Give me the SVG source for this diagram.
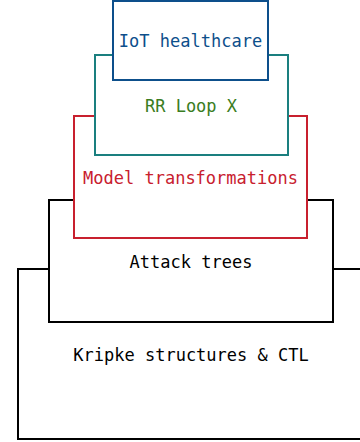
<svg xmlns="http://www.w3.org/2000/svg" width="360" height="442" viewBox="0 0 360 442">
<style>
rect{fill:#fff;stroke-width:2}
text{font-family:"DejaVu Sans Mono",monospace;font-size:17px;text-anchor:middle}
</style>
<rect width="360" height="442" fill="#fff" stroke="none"/>
<g id="kripke"><rect x="18" y="269" width="346" height="170" stroke="#000"/><text x="191" y="361" fill="#000">Kripke structures &amp; CTL</text></g>
<g id="attack"><rect x="49" y="200" width="284" height="122" stroke="#000"/><text x="191" y="268" fill="#000">Attack trees</text></g>
<g id="model"><rect x="74" y="116" width="233" height="122" stroke="#c8202e"/><text x="190.5" y="184" fill="#c8202e">Model transformations</text></g>
<g id="rrloop"><rect x="95" y="55" width="193" height="100" stroke="#1a7f7f"/><text x="191" y="112" fill="#3a7d22">RR Loop X</text></g>
<g id="iot"><rect x="113" y="1" width="155" height="79" stroke="#0d4f8b"/><text x="190.5" y="47" fill="#0d4f8b">IoT healthcare</text></g>
<g id="connectors"/>
</svg>
